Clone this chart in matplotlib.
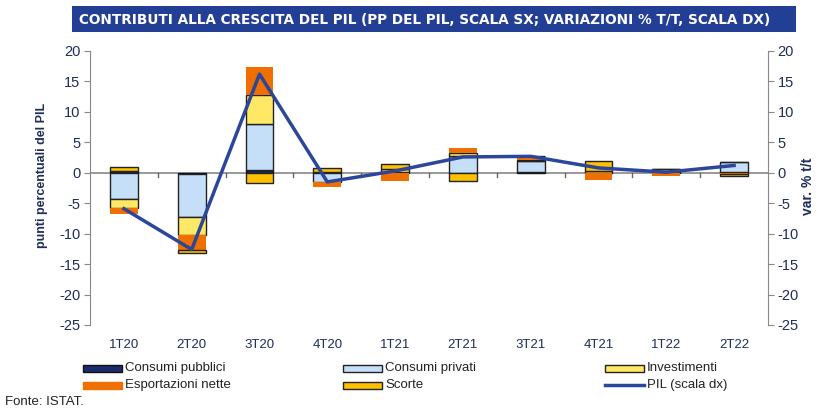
import matplotlib
matplotlib.use("Agg")
import matplotlib.pyplot as plt
import numpy as np
from matplotlib.patches import Rectangle
from matplotlib.lines import Line2D

plt.rcParams['axes.unicode_minus'] = False
plt.rcParams['font.family'] = ['Liberation Sans', 'DejaVu Sans']

# data (pp of GDP, left scale; PIL on right scale)
quarters = ['1T20', '2T20', '3T20', '4T20', '1T21', '2T21', '3T21', '4T21', '1T22', '2T22']
cons_pubblici = [0.25, -0.2, 0.4, 0.2, 0.1, 0.0, 0.2, 0.0, 0.1, 0.1]
cons_privati = [-4.3, -7.1, 7.6, -1.5, 0.0, 2.8, 1.8, 0.0, 0.0, 1.6]
investimenti = [-1.5, -2.9, 4.75, 0.0, 0.6, 0.5, 0.1, 0.3, 0.6, 0.0]
esport_nette = [-1.0, -2.5, 4.6, -0.9, -1.3, 0.7, 0.6, -1.2, -0.6, -0.2]
scorte = [0.65, -0.5, -1.7, 0.6, 0.8, -1.3, 0.0, 1.6, 0.0, -0.4]
pil = [-5.9, -12.6, 16.2, -1.5, 0.3, 2.6, 2.7, 0.8, 0.1, 1.2]

c_pub = '#1B2A6B'
c_priv = '#C6DFF8'
c_inv = '#FFE866'
c_exp = '#EF7000'
c_sco = '#FFC000'
c_pil = '#2B469B'
navy = '#1F2D5A'
W, H = 827, 412

fig = plt.figure(figsize=(8.27, 4.12), dpi=100)
ax = fig.add_axes([90 / W, 1 - 325 / H, 678 / W, 274 / H])
ax2 = ax.twinx()

x = np.arange(len(quarters))
w = 0.41
series = [(cons_pubblici, c_pub, '#111111'), (cons_privati, c_priv, '#222222'),
          (investimenti, c_inv, '#222222'), (esport_nette, c_exp, 'none'),
          (scorte, c_sco, '#222222')]
pos = np.zeros(len(x))
neg = np.zeros(len(x))
for vals, col, ec in series:
    v = np.array(vals)
    base = np.where(v >= 0, pos, neg)
    ax.bar(x, v, w, bottom=base, color=col, edgecolor=ec, linewidth=1.0, zorder=3)
    pos = pos + np.where(v >= 0, v, 0)
    neg = neg + np.where(v < 0, v, 0)

# PIL line on the right-hand axis, drawn above the bars
ax2.plot(x, pil, color=c_pil, lw=2.5, zorder=5)

for a in (ax, ax2):
    a.set_ylim(-25, 20)
    a.set_yticks(range(-25, 21, 5))
    a.set_xlim(-0.5, len(quarters) - 0.5)
    for s in ['top', 'bottom']:
        a.spines[s].set_visible(False)
    a.tick_params(axis='y', colors='#888888', labelcolor=navy, labelsize=10.5, length=4, pad=3)
ax.spines['left'].set_color('#888888')
ax2.spines['right'].set_color('#888888')
ax2.spines['left'].set_visible(False)
ax.spines['right'].set_visible(False)

ax.axhline(0, color='#888888', lw=1.2, zorder=2)
for b in x[:-1] + 0.5:
    ax.plot([b, b], [0, -0.7], color='#666666', lw=1.0, zorder=2)
ax.set_xticks(x)
ax.set_xticklabels(quarters, color=navy, fontsize=9.5)
ax.tick_params(axis='x', length=0, pad=10)

fig.text(42 / W, 1 - 175 / H, 'punti percentuali del PIL', rotation=90, fontsize=9, fontweight='bold',
         color=navy, ha='center', va='center')
fig.text(808 / W, 1 - 186 / H, 'var. % t/t', rotation=90, fontsize=10, fontweight='bold',
         color=navy, ha='center', va='center')

# title bar
fig.patches.append(Rectangle((72 / W, 1 - 32 / H), 724 / W, 26 / H, transform=fig.transFigure,
                             facecolor='#233E95', edgecolor='none'))
title = fig.text(79 / W, 1 - 19.5 / H,
                 'CONTRIBUTI ALLA CRESCITA DEL PIL (PP DEL PIL, SCALA SX; VARIAZIONI % T/T, SCALA DX)',
                 color='white', fontsize=10, fontweight='bold', va='center', ha='left', family='DejaVu Sans')
r = fig.canvas.get_renderer()
tw = title.get_window_extent(r).width
title.set_fontsize(10 * 694 / tw)

# legend drawn by hand (three columns, two rows)
leg = [(83, 368, 'Consumi pubblici', c_pub, '#111111', 'patch'),
       (83, 385, 'Esportazioni nette', c_exp, c_exp, 'patch'),
       (343, 368, 'Consumi privati', c_priv, '#222222', 'patch'),
       (343, 385, 'Scorte', c_sco, '#222222', 'patch'),
       (605, 368, 'Investimenti', c_inv, '#222222', 'patch'),
       (605, 385, 'PIL (scala dx)', c_pil, c_pil, 'line')]
for lx, ly, lab, fc, ec, kind in leg:
    if kind == 'patch':
        fig.patches.append(Rectangle((lx / W, 1 - (ly + 3.5) / H), 39 / W, 7 / H, transform=fig.transFigure,
                                     facecolor=fc, edgecolor=ec, linewidth=1.0))
    else:
        fig.lines.append(Line2D([lx / W, (lx + 39) / W], [1 - ly / H, 1 - ly / H], transform=fig.transFigure,
                                color=fc, lw=2.5))
    fig.text((lx + 42) / W, 1 - ly / H, lab, fontsize=9.5, color='#222222', va='center', ha='left')

fig.text(5 / W, 1 - 402 / H, 'Fonte: ISTAT.', fontsize=9.5, color='#222222', va='center')

fig.savefig('out.png', dpi=100)
